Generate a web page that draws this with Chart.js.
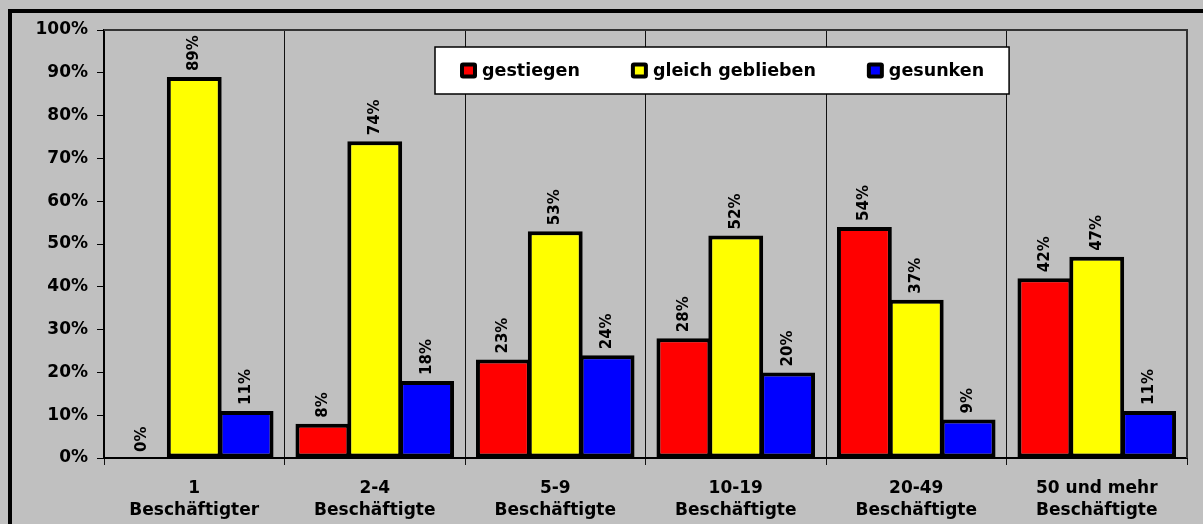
<!DOCTYPE html>
<html>
<head>
<meta charset="utf-8">
<script src="https://cdn.jsdelivr.net/npm/chart.js@4/dist/chart.umd.min.js"></script>
<style>
  body { margin: 0; background: #c0c0c0; }
  canvas { display: block; }
</style>
</head>
<body>
<canvas id="chart" width="1203" height="524"></canvas>
<script>
// Daten
const categories = [
  ['1', 'Beschäftigter'],
  ['2-4', 'Beschäftigte'],
  ['5-9', 'Beschäftigte'],
  ['10-19', 'Beschäftigte'],
  ['20-49', 'Beschäftigte'],
  ['50 und mehr', 'Beschäftigte']
];
const seriesNames = ['gestiegen', 'gleich geblieben', 'gesunken'];
const gestiegen = [0, 8, 23, 28, 54, 42];
const gleichGeblieben = [89, 74, 53, 52, 37, 47];
const gesunken = [11, 18, 24, 20, 9, 11];
const yTicks = [0, 10, 20, 30, 40, 50, 60, 70, 80, 90, 100];

const FONT = 'DejaVu Sans';

// Hintergrund + Rahmen
const frame = {
  id: 'frame',
  beforeDraw(chart) {
    const { ctx, width, height } = chart;
    ctx.save();
    ctx.fillStyle = '#c0c0c0';
    ctx.fillRect(0, 0, width, height);
    ctx.fillStyle = '#000';
    ctx.fillRect(8, 9, width - 8, 4);
    ctx.fillRect(8, 9, 4, height - 9);
    ctx.restore();
  },
  afterDraw(chart) {
    const { ctx, chartArea: a } = chart;
    ctx.save();
    ctx.strokeStyle = '#333';
    ctx.lineWidth = 2;
    ctx.beginPath();
    ctx.moveTo(a.left, a.top);
    ctx.lineTo(a.right, a.top);
    ctx.lineTo(a.right, a.bottom);
    ctx.stroke();
    ctx.restore();
  }
};

// senkrechte Werte über den Balken
const valueLabels = {
  id: 'valueLabels',
  afterDatasetsDraw(chart) {
    const { ctx } = chart;
    ctx.save();
    ctx.fillStyle = '#000';
    ctx.font = 'bold 15px "' + FONT + '"';
    ctx.textAlign = 'left';
    ctx.textBaseline = 'middle';
    chart.data.datasets.forEach((ds, i) => {
      chart.getDatasetMeta(i).data.forEach((bar, j) => {
        ctx.save();
        ctx.translate(bar.x, bar.y - 6);
        ctx.rotate(-Math.PI / 2);
        ctx.fillText(ds.data[j] + '%', 0, 0);
        ctx.restore();
      });
    });
    ctx.restore();
  }
};

// Legende im Diagramm
const boxLegend = {
  id: 'boxLegend',
  afterDraw(chart) {
    const { ctx } = chart;
    ctx.save();
    ctx.font = 'bold 17.5px "' + FONT + '"';
    const sq = 17, gapText = 5, gapItem = 51, pad = 25;
    const items = chart.data.datasets.map(ds => ({
      label: ds.label, color: ds.backgroundColor, w: ctx.measureText(ds.label).width
    }));
    let total = pad * 2 + gapItem * (items.length - 1);
    items.forEach(it => total += sq + gapText + it.w);
    const boxX = Math.round(722.5 - total / 2), boxY = 47, boxH = 47;
    ctx.fillStyle = '#fff';
    ctx.fillRect(boxX, boxY, total, boxH);
    ctx.strokeStyle = '#000';
    ctx.lineWidth = 1.5;
    ctx.strokeRect(boxX, boxY, total, boxH);
    let x = boxX + pad;
    const cy = boxY + boxH / 2;
    items.forEach(it => {
      ctx.fillStyle = '#000';
      ctx.beginPath();
      ctx.roundRect(x, cy - 8, sq, 16, 3);
      ctx.fill();
      ctx.fillStyle = it.color;
      ctx.fillRect(x + 4, cy - 4, sq - 8, 8);
      ctx.fillStyle = '#000';
      ctx.textAlign = 'left';
      ctx.textBaseline = 'middle';
      ctx.fillText(it.label, x + sq + gapText, cy + 1);
      x += sq + gapText + it.w + gapItem;
    });
    ctx.restore();
  }
};

const barStyle = {
  borderColor: '#000',
  borderWidth: 4,
  borderSkipped: false,
  categoryPercentage: 0.862,
  barPercentage: 1.058
};

new Chart(document.getElementById('chart'), {
  type: 'bar',
  data: {
    labels: categories,
    datasets: [
      { label: seriesNames[0], data: gestiegen, backgroundColor: '#ff0000', ...barStyle },
      { label: seriesNames[1], data: gleichGeblieben, backgroundColor: '#ffff00', ...barStyle },
      { label: seriesNames[2], data: gesunken, backgroundColor: '#0000ff', ...barStyle }
    ]
  },
  options: {
    responsive: false,
    animation: false,
    devicePixelRatio: 1,
    layout: { padding: { top: 30, right: 16, left: 0, bottom: 0 } },
    plugins: {
      legend: { display: false },
      tooltip: { enabled: false }
    },
    scales: {
      x: {
        offset: true,
        grid: { offset: true, color: '#111', lineWidth: 1, tickLength: 7, drawOnChartArea: true },
        border: { color: '#000', width: 2 },
        ticks: {
          color: '#000', padding: 13, maxRotation: 0,
          font: { family: FONT, weight: 'bold', size: 17, lineHeight: 1.27 }
        },
        afterFit(scale) { scale.height = 66; }
      },
      y: {
        min: 0,
        max: 100,
        afterBuildTicks(scale) { scale.ticks = yTicks.map(v => ({ value: v })); },
        grid: { drawOnChartArea: false, color: '#000', tickLength: 7 },
        border: { color: '#000', width: 2 },
        ticks: {
          color: '#000', padding: 9,
          font: { family: FONT, weight: 'bold', size: 17 },
          callback: v => v + '%'
        },
        afterFit(scale) { scale.width = 104; }
      }
    }
  },
  plugins: [frame, valueLabels, boxLegend]
});
</script>
</body>
</html>
